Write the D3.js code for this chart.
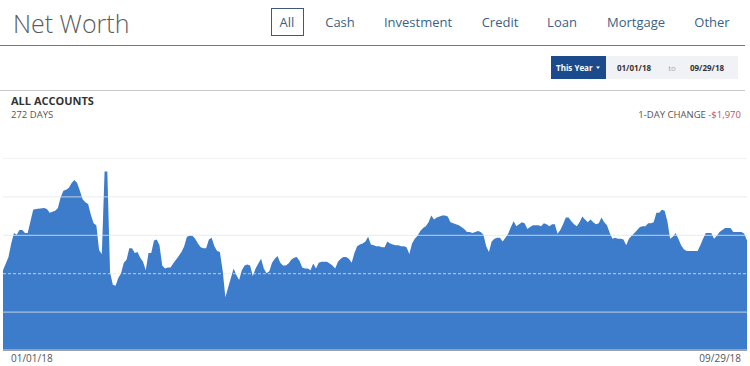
<!DOCTYPE html>
<html>
<head>
<meta charset="utf-8">
<script src="https://cdn.jsdelivr.net/npm/d3@7"></script>
<style>
  body { margin: 0; background: #fff; }
  svg { display: block; font-family: "Open Sans", sans-serif; }
</style>
</head>
<body>
<svg id="chart" width="750" height="366"></svg>
<script>
// net worth, thousands of dollars (day = days since 01/01/18)
var days = [0, 2, 3, 4, 5, 6, 7, 8, 9, 11, 12, 15, 16, 17, 19, 20, 21, 22, 23, 24,
  25, 26, 27, 28, 29, 30, 31, 32, 33, 34, 35, 36, 37, 38, 39, 40, 41, 42, 43, 44,
  45, 46, 47, 48, 49, 50, 51, 52, 53, 54, 55, 56, 57, 58, 59, 60, 61, 62, 63, 64,
  65, 66, 67, 68, 69, 70, 71, 72, 73, 74, 75, 76, 77, 78, 79, 80, 81, 82, 83, 84,
  85, 86, 87, 88, 89, 90, 91, 92, 93, 94, 95, 96, 97, 98, 99, 100, 101, 102, 103, 104,
  105, 106, 107, 108, 109, 110, 111, 112, 113, 114, 115, 116, 117, 118, 119, 120, 121, 122, 123, 124,
  125, 126, 127, 128, 129, 130, 131, 132, 133, 134, 135, 136, 137, 138, 139, 140, 141, 142, 143, 144,
  145, 146, 147, 148, 149, 150, 151, 152, 153, 154, 155, 156, 157, 158, 159, 160, 161, 162, 163, 164,
  165, 166, 167, 168, 169, 170, 171, 172, 173, 174, 175, 176, 177, 178, 179, 180, 181, 182, 183, 184,
  185, 186, 187, 188, 189, 190, 191, 192, 193, 194, 195, 196, 197, 198, 199, 200, 201, 202, 203, 204,
  205, 206, 207, 208, 209, 210, 211, 212, 213, 214, 215, 216, 217, 218, 219, 220, 221, 222, 223, 224,
  225, 226, 227, 228, 229, 230, 231, 232, 233, 234, 235, 236, 237, 238, 239, 240, 241, 242, 243, 244,
  245, 246, 247, 248, 249, 253, 254, 255, 256, 258, 259, 260, 261, 262, 263, 265, 266, 268, 269, 270,
  271]

var values = [83, 97, 111, 122, 120, 125, 125, 122, 122, 146, 147, 148, 147, 143, 145, 148, 159, 166, 167, 169,
  174, 177, 174, 166, 157, 154, 152, 141, 132, 130, 104, 100, 186, 186, 81, 68, 67, 75, 80, 91,
  94, 106, 106, 101, 102, 96, 92, 83, 101, 101, 114, 115, 109, 88, 85, 86, 86, 90, 94, 98,
  102, 108, 118, 119, 119, 116, 111, 107, 106, 106, 115, 117, 108, 103, 102, 83, 55, 65, 75, 85,
  78, 73, 83, 88, 89, 88, 77, 85, 90, 95, 85, 80, 82, 91, 95, 98, 91, 88, 88, 90,
  94, 96, 97, 93, 86, 85, 85, 83, 90, 85, 91, 92, 92, 92, 90, 88, 85, 92, 95, 97,
  97, 95, 91, 101, 108, 110, 111, 113, 118, 110, 109, 108, 108, 107, 107, 113, 111, 110, 109, 109,
  108, 108, 107, 100, 111, 116, 119, 124, 127, 129, 133, 140, 136, 138, 139, 140, 140, 139, 133, 132,
  131, 130, 128, 126, 123, 123, 122, 123, 124, 123, 120, 108, 102, 113, 116, 117, 117, 113, 117, 121,
  128, 134, 129, 131, 133, 132, 126, 128, 130, 130, 130, 129, 132, 131, 129, 131, 131, 121, 125, 131,
  138, 138, 134, 131, 129, 133, 139, 136, 133, 136, 133, 131, 132, 138, 133, 130, 122, 116, 117, 116,
  116, 115, 109, 116, 119, 122, 125, 128, 129, 129, 132, 132, 133, 143, 143, 146, 145, 134, 116, 118,
  122, 116, 109, 105, 103, 103, 109, 116, 122, 122, 116, 119, 123, 125, 127, 127, 123, 123, 123, 121,
  114]

var gridTicks = [0, 40, 80, 120, 160, 200]
var navItems = ['All', 'Cash', 'Investment', 'Credit', 'Loan', 'Mortgage', 'Other']
var startLabel = '01/01/18'
var endLabel = '09/29/18'

var svg = d3.select('#chart')
var start = new Date(2018, 0, 1)
var data = days.map(function (d, i) {
  return { date: d3.timeDay.offset(start, d), value: values[i] }
})

// ---- header ----
svg.append('text').attr('x', 13).attr('y', 33)
  .attr('font-size', 25).attr('font-weight', 300).attr('fill', '#5b5b5b')
  .text('Net Worth')

var navX = [287, 340, 418, 500, 562, 636, 712]
navItems.forEach(function (n, i) {
  svg.append('text').attr('x', navX[i]).attr('y', 27)
    .attr('text-anchor', 'middle').attr('font-size', 13)
    .attr('fill', '#3b5f86').text(n)
})
svg.append('rect').attr('x', 271.5).attr('y', 8.5).attr('width', 32).attr('height', 27)
  .attr('fill', 'none').attr('stroke', '#3f5873')

svg.append('line').attr('x1', 0).attr('x2', 745).attr('y1', 45.5).attr('y2', 45.5)
  .attr('stroke', '#777')
svg.append('line').attr('x1', 0).attr('x2', 745).attr('y1', 90.5).attr('y2', 90.5)
  .attr('stroke', '#c8c8c8')

// date range control
svg.append('rect').attr('x', 606).attr('y', 56).attr('width', 132).attr('height', 23)
  .attr('fill', '#f1f2f5')
svg.append('rect').attr('x', 551).attr('y', 56).attr('width', 55).attr('height', 23)
  .attr('fill', '#1b4b8c')
svg.append('text').attr('x', 556).attr('y', 71).attr('font-size', 8)
  .attr('font-weight', 700).attr('fill', '#fff').text('This Year')
svg.append('path').attr('d', 'M596,66.5h4l-2,2.5z').attr('fill', '#fff')
svg.append('text').attr('x', 634).attr('y', 71).attr('text-anchor', 'middle')
  .attr('font-size', 8).attr('font-weight', 700).attr('fill', '#333').text(startLabel)
svg.append('text').attr('x', 672).attr('y', 71).attr('text-anchor', 'middle')
  .attr('font-size', 8).attr('fill', '#aaa').text('to')
svg.append('text').attr('x', 707).attr('y', 71).attr('text-anchor', 'middle')
  .attr('font-size', 8).attr('font-weight', 700).attr('fill', '#333').text(endLabel)

// chart titles
svg.append('text').attr('x', 11).attr('y', 105).attr('font-size', 11)
  .attr('font-weight', 700).attr('fill', '#333').text('ALL ACCOUNTS')
svg.append('text').attr('x', 11).attr('y', 118).attr('font-size', 9.5)
  .attr('fill', '#555').text('272 DAYS')
var chg = svg.append('text').attr('x', 741).attr('y', 118).attr('text-anchor', 'end')
  .attr('font-size', 9.5).attr('fill', '#555')
chg.append('tspan').text('1-DAY CHANGE ')
chg.append('tspan').attr('fill', '#c2505a').text('-$1,970')

// ---- area chart ----
var x = d3.scaleTime()
  .domain([start, d3.timeDay.offset(start, 271)])
  .range([3, 747])
var y = d3.scaleLinear().domain([0, 200]).range([350, 158])

var area = d3.area()
  .x(function (d) { return x(d.date) })
  .y0(y(0))
  .y1(function (d) { return y(d.value) })

svg.append('path').datum(data).attr('d', area).attr('fill', '#3d7cca')

svg.selectAll('.grid').data(gridTicks.slice(1)).enter().append('line')
  .attr('class', 'grid')
  .attr('x1', 3).attr('x2', 747)
  .attr('y1', function (d) { return y(d) + 0.5 })
  .attr('y2', function (d) { return y(d) + 0.5 })
  .attr('stroke', '#e3e6ea')
  .attr('stroke-opacity', function (d) { return d == 200 ? 0.5 : 0.8 })
  .attr('stroke-dasharray', function (d) { return d == 80 ? '3,2' : null })

svg.append('line').attr('x1', 3).attr('x2', 747).attr('y1', y(0)).attr('y2', y(0))
  .attr('stroke', '#9ba4ae').attr('stroke-width', 2)

svg.append('text').attr('x', 11).attr('y', 362).attr('font-size', 10)
  .attr('fill', '#555').text(startLabel)
svg.append('text').attr('x', 741).attr('y', 362).attr('text-anchor', 'end')
  .attr('font-size', 10).attr('fill', '#555').text(endLabel)
</script>
</body>
</html>
